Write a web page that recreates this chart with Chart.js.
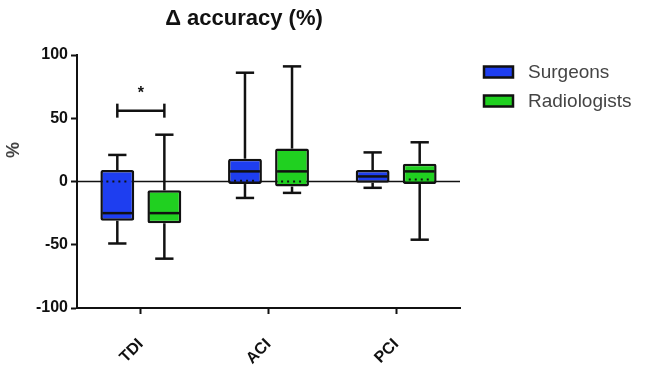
<!DOCTYPE html>
<html lang="en">
<head>
<meta charset="UTF-8">
<title>Δ accuracy (%)</title>
<script src="https://cdn.jsdelivr.net/npm/chart.js@4.4.0/dist/chart.umd.min.js"></script>
<style>
    body { margin: 0; background: #fff; }
</style>
</head>
<body>
<canvas id="chart" width="645" height="382"></canvas>
<script>
const categories = ['TDI', 'ACI', 'PCI'];
const groups = ['Surgeons', 'Radiologists'];
const groupColors = ['#1e3ef0', '#20d020'];

// box plot values (%)
const surgeonsMin = [-49, -13, -5];
const surgeonsQ1 = [-31, -2, -1];
const surgeonsMedian = [-25, 8, 4];
const surgeonsQ3 = [9, 18, 9];
const surgeonsMax = [21, 86, 23];
const surgeonsMean = [0, 0.5, null];

const radiologistsMin = [-61, -9, -46];
const radiologistsQ1 = [-33, -4, -2];
const radiologistsMedian = [-25, 8, 8];
const radiologistsQ3 = [-7, 26, 14];
const radiologistsMax = [37, 91, 31];
const radiologistsMean = [null, 0, 1.5];

const yTicks = [-100, -50, 0, 50, 100];
const bracketValue = 56;   // significance bar over TDI
const starValue = 72;

const FONT = '"Liberation Sans", Arial, sans-serif';
const INK = '#111';

function makeBoxes(q1, q3) {
    return q1.map((v, i) => [v, q3[i]]);
}

function line(ctx, x1, y1, x2, y2) {
    ctx.beginPath();
    ctx.moveTo(x1, y1);
    ctx.lineTo(x2, y2);
    ctx.stroke();
}

const boxPlot = {
    id: 'boxPlot',
    beforeDatasetsDraw(chart) {
        const { ctx, chartArea, scales: { y } } = chart;
        const y0 = y.getPixelForValue(0);
        ctx.save();
        ctx.strokeStyle = INK;
        ctx.lineWidth = 1.5;
        line(ctx, chartArea.left, y0, chartArea.right, y0);
        ctx.restore();
    },
    afterDatasetsDraw(chart) {
        const { ctx, scales: { y } } = chart;
        ctx.save();
        ctx.strokeStyle = INK;
        chart.data.datasets.forEach((ds, di) => {
            const meta = chart.getDatasetMeta(di);
            meta.data.forEach((bar, i) => {
                const x = bar.x;
                const w = bar.width;
                const cap = w * 0.27;
                const yQ1 = y.getPixelForValue(ds.data[i][0]);
                const yQ3 = y.getPixelForValue(ds.data[i][1]);
                const yMin = y.getPixelForValue(ds.whiskerMin[i]);
                const yMax = y.getPixelForValue(ds.whiskerMax[i]);
                const yMed = y.getPixelForValue(ds.median[i]);

                ctx.setLineDash([]);
                ctx.lineWidth = 2.5;
                line(ctx, x, yQ3, x, yMax);
                line(ctx, x - cap, yMax, x + cap, yMax);
                line(ctx, x, yQ1, x, yMin);
                line(ctx, x - cap, yMin, x + cap, yMin);
                line(ctx, x - w / 2 + 2, yMed, x + w / 2 - 2, yMed);

                if (ds.mean[i] !== null) {
                    const yMean = y.getPixelForValue(ds.mean[i]);
                    ctx.lineWidth = 2;
                    ctx.setLineDash([2, 4]);
                    line(ctx, x - w / 2 + 6, yMean, x + w / 2 - 4, yMean);
                }
            });
        });
        ctx.restore();
    },
    afterDraw(chart) {
        const { ctx, scales: { y } } = chart;
        ctx.save();

        // title
        ctx.fillStyle = INK;
        ctx.font = 'bold 22px ' + FONT;
        ctx.textAlign = 'center';
        ctx.textBaseline = 'middle';
        ctx.fillText('Δ accuracy (%)', 244, 19);

        // y axis title
        ctx.save();
        ctx.translate(14, 150);
        ctx.rotate(-Math.PI / 2);
        ctx.fillStyle = '#444';
        ctx.font = 'bold 18px ' + FONT;
        ctx.fillText('%', 0, 0);
        ctx.restore();

        // significance bracket between the two TDI boxes
        const xa = chart.getDatasetMeta(0).data[0].x;
        const xb = chart.getDatasetMeta(1).data[0].x;
        const yb = y.getPixelForValue(bracketValue);
        ctx.strokeStyle = INK;
        ctx.lineWidth = 2.5;
        line(ctx, xa, yb, xb, yb);
        line(ctx, xa, yb - 7, xa, yb + 7);
        line(ctx, xb, yb - 7, xb, yb + 7);
        ctx.font = 'bold 16px ' + FONT;
        ctx.fillText('*', (xa + xb) / 2, y.getPixelForValue(starValue) + 3);

        // legend
        ctx.textAlign = 'left';
        ctx.font = '19px ' + FONT;
        groups.forEach((g, i) => {
            const top = 66.5 + i * 29;
            ctx.fillStyle = groupColors[i];
            ctx.fillRect(484, top, 29, 11);
            ctx.lineWidth = 2.5;
            ctx.strokeRect(484, top, 29, 11);
            ctx.fillStyle = '#444';
            ctx.fillText(g, 528, top + 6);
        });
        ctx.restore();
    }
};

const chart = new Chart(document.getElementById('chart'), {
    type: 'bar',
    data: {
        labels: categories,
        datasets: [
            {
                label: groups[0],
                data: makeBoxes(surgeonsQ1, surgeonsQ3),
                median: surgeonsMedian,
                mean: surgeonsMean,
                whiskerMin: surgeonsMin,
                whiskerMax: surgeonsMax,
                backgroundColor: groupColors[0]
            },
            {
                label: groups[1],
                data: makeBoxes(radiologistsQ1, radiologistsQ3),
                median: radiologistsMedian,
                mean: radiologistsMean,
                whiskerMin: radiologistsMin,
                whiskerMax: radiologistsMax,
                backgroundColor: groupColors[1]
            }
        ]
    },
    options: {
        responsive: false,
        animation: false,
        devicePixelRatio: 1,
        categoryPercentage: 0.737,
        barPercentage: 0.72,
        borderColor: INK,
        borderWidth: 2.5,
        borderSkipped: false,
        borderRadius: 2,
        layout: { padding: { top: 55, right: 185, bottom: 0, left: 0 } },
        plugins: {
            legend: { display: false },
            tooltip: { enabled: false }
        },
        scales: {
            x: {
                afterFit: (scale) => { scale.height = 74; },
                grid: {
                    offset: false,
                    drawOnChartArea: false,
                    tickLength: 6,
                    tickColor: INK,
                    tickWidth: 2
                },
                border: { color: INK, width: 2 },
                ticks: {
                    minRotation: 45,
                    maxRotation: 45,
                    padding: 21,
                    color: INK,
                    font: { family: FONT, size: 16, weight: 'bold' }
                }
            },
            y: {
                min: -100,
                max: 100,
                afterFit: (scale) => { scale.width = 77; },
                afterBuildTicks: (scale) => { scale.ticks = yTicks.map(v => ({ value: v })); },
                grid: {
                    drawOnChartArea: false,
                    tickLength: 6,
                    tickColor: INK,
                    tickWidth: 2
                },
                border: { color: INK, width: 2 },
                ticks: {
                    padding: 3,
                    color: INK,
                    font: { family: FONT, size: 16, weight: 'bold' }
                }
            }
        }
    },
    plugins: [boxPlot]
});
</script>
</body>
</html>
